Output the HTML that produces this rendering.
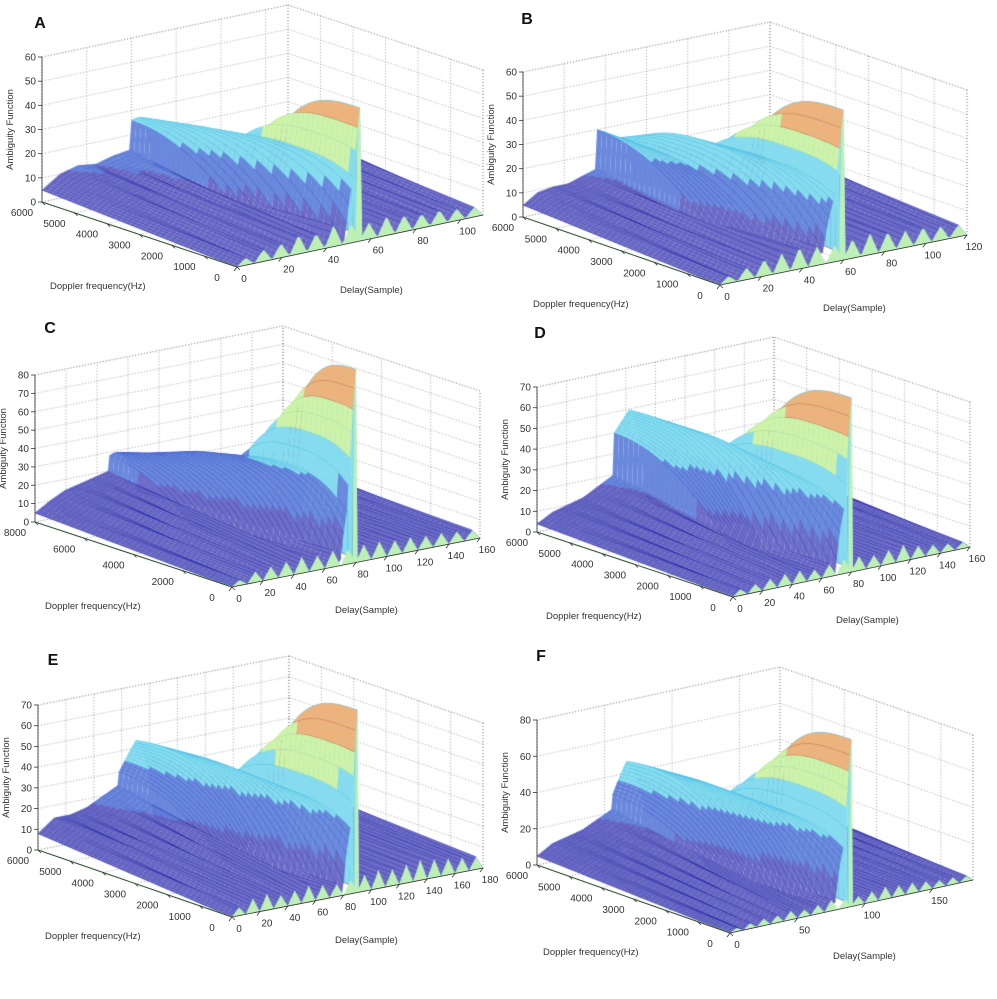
<!DOCTYPE html>
<html><head><meta charset="utf-8">
<style>
html,body{margin:0;padding:0;background:#fff;}
#wrap{position:relative;width:997px;height:999px;overflow:hidden;background:#fff;}
canvas,svg{position:absolute;left:0;top:0;}
text{font-family:"Liberation Sans",sans-serif;}
</style></head>
<body>
<div id="wrap">
<canvas id="cv" width="997" height="999"></canvas>
<svg id="sv" width="997" height="999"></svg>
</div>
<script>
// ---- per-panel data ----
const panelLetters = ["A","B","C","D","E","F"];
const peakHeights = [55, 62, 105, 84, 88, 92];
const zAxisMax = [60, 60, 80, 70, 70, 80];
const dopplerMax = [6000, 6000, 8000, 6000, 6000, 6000];
const delayMax = [110, 120, 160, 160, 180, 180];
const zTicksA = [0,10,20,30,40,50,60];
const zTicksB = [0,10,20,30,40,50,60];
const zTicksC = [0,10,20,30,40,50,60,70,80];
const zTicksD = [0,10,20,30,40,50,60,70];
const zTicksE = [0,10,20,30,40,50,60,70];
const zTicksF = [0,20,40,60,80];
const fTicks6 = [0,1000,2000,3000,4000,5000,6000];
const fTicks8 = [0,2000,4000,6000,8000];
const tTicksA = [0,20,40,60,80,100];
const tTicksB = [0,20,40,60,80,100,120];
const tTicksC = [0,20,40,60,80,100,120,140,160];
const tTicksE = [0,20,40,60,80,100,120,140,160,180];
const tTicksF = [0,50,100,150];
// diagonal ridge: delay, doppler of crest, crest height
const ridgeTauA=[40,44,48,52,55], ridgeFA=[6000,5000,3500,1800,0], ridgeHA=[26,28,30,32,55];
const ridgeTauB=[36,44,50,56,60], ridgeFB=[6000,4800,3500,2000,0], ridgeHB=[30,26,34,33,62];
const ridgeTauC=[48,58,66,74,80], ridgeFC=[8000,6000,4500,2500,0], ridgeHC=[28,34,40,44,105];
const ridgeTauD=[52,62,68,75,80], ridgeFD=[6000,5500,4000,2200,0], ridgeHD=[40,50,48,40,84];
const ridgeTauE=[58,70,78,85,90], ridgeFE=[6000,5200,3800,2000,0], ridgeHE=[30,45,44,40,88];
const ridgeTauF=[56,66,76,84,90], ridgeFF=[6000,5200,3800,2000,0], ridgeHF=[30,48,46,42,92];
const archWidthFrac=[0.58,0.62,0.45,0.62,0.58,0.58];
// back-edge heights of the low slices in front of the ridge
const backHA=[5,10,12,11,13,14], backHB=[5,9,10,10,12,14], backHC=[5,10,14,16,18,20];
const backHD=[4,8,10,12,16,20], backHE=[8,14,14,16,20,24], backHF=[5,10,12,14,18,22];
const rightH=[10,10,8,8,11,8];
// front (zero-doppler) sidelobe spike heights
const spikesA=[3,5,6,8,7,9,8,7,8,7,6,6,5,4];
const spikesB=[3,5,7,8,9,8,7,8,9,8,7,7,6,5];
const spikesC=[3,6,7,8,9,8,9,8,9,9,8,8,7,7,6,5];
const spikesD=[3,4,5,6,6,5,6,7,7,6,7,8,6,5,4,3];
const spikesE=[4,7,8,6,7,8,7,6,7,8,9,8,9,10,9,8,7,6];
const spikesF=[2,3,4,4,5,4,5,6,5,5,6,7,6,6,5,4,4,3];

// ---- panel geometry (pixels) ----
const geom = [
 {F:[237,267], dv:[-195,-65], tv:[246,-52], zpx:145, lab:[40,22]},
 {F:[720,285], dv:[-197,-68], tv:[247,-50], zpx:145, lab:[527,18]},
 {F:[232,587], dv:[-197,-65], tv:[248,-49], zpx:147, lab:[50,327]},
 {F:[733,597], dv:[-196,-65], tv:[237,-50], zpx:145, lab:[540,332]},
 {F:[232,917], dv:[-194,-67], tv:[251,-49], zpx:145, lab:[53,659]},
 {F:[730,933], dv:[-193,-68], tv:[243,-53], zpx:145, lab:[541,655]}
];
const zTicks=[zTicksA,zTicksB,zTicksC,zTicksD,zTicksE,zTicksF];
const fTicks=[fTicks6,fTicks6,fTicks8,fTicks6,fTicks6,fTicks6];
const tTicks=[tTicksA,tTicksB,tTicksC,tTicksC,tTicksE,tTicksF];
const ridgeTau=[ridgeTauA,ridgeTauB,ridgeTauC,ridgeTauD,ridgeTauE,ridgeTauF];
const ridgeF=[ridgeFA,ridgeFB,ridgeFC,ridgeFD,ridgeFE,ridgeFF];
const ridgeH=[ridgeHA,ridgeHB,ridgeHC,ridgeHD,ridgeHE,ridgeHF];
const backH=[backHA,backHB,backHC,backHD,backHE,backHF];
const spikes=[spikesA,spikesB,spikesC,spikesD,spikesE,spikesF];

const cv=document.getElementById('cv'), ctx=cv.getContext('2d');
const sv=document.getElementById('sv');
const NS='http://www.w3.org/2000/svg';

function proj(p,t,f,z){
  const g=geom[p], T=delayMax[p], Fm=dopplerMax[p];
  return [g.F[0]+f/Fm*g.dv[0]+t/T*g.tv[0], g.F[1]+f/Fm*g.dv[1]+t/T*g.tv[1]-z/zAxisMax[p]*g.zpx];
}
function interp(xs,ys,x){
  if(x<=xs[0]) return ys[0];
  for(let i=1;i<xs.length;i++){ if(x<=xs[i]){const r=(x-xs[i-1])/(xs[i]-xs[i-1]); return ys[i-1]+r*(ys[i]-ys[i-1]);} }
  return ys[ys.length-1];
}
function frontSpike(p,t){
  const T=delayMax[p], sp=spikes[p], m=sp.length, slot=t/T*m, k=Math.min(m-1,Math.floor(slot)), fr=slot-k;
  return sp[k]*(1-Math.abs(2*fr-1));
}
function zAt(p,t,f){
  const T=delayMax[p], Fm=dopplerMax[p], c=T/2;
  const rt=ridgeTau[p], t0=rt[0];
  const front=frontSpike(p,t);
  let back;
  if(t<t0){ const bh=backH[p]; back=interp(bh.map((_,i)=>i/(bh.length-1)*t0),bh,t); }
  else if(t>c) back=rightH[p]; else back=5;
  let z=front+(back-front)*(f/Fm);
  if(t>=t0 && t<=c){
    const fc=interp(rt,ridgeF[p],t), H=interp(rt,ridgeH[p],t), W=archWidthFrac[p]*Fm;
    const ex=2+1*(t-t0)/(c-t0);
    const d=Math.abs(f-fc)/W, lobe=H*Math.max(0,1-Math.pow(d,ex));
    if(lobe>z) z=lobe;
  }
  return z;
}
const fills=['#6e6ec8','#6a88dc','#86dcee','#cdf2a8','#efb27a'];
const strokes=['#1e1ea0','#2646c4','#36b4e2','#9ed898','#b8542a'];

function drawGrid(p){
  const T=delayMax[p], Fm=dopplerMax[p], Z=zAxisMax[p];
  ctx.save(); ctx.strokeStyle='#8a8a8a'; ctx.lineWidth=0.8; ctx.setLineDash([1,2]);
  const L=(a,b)=>{ctx.beginPath();ctx.moveTo(a[0],a[1]);ctx.lineTo(b[0],b[1]);ctx.stroke();};
  tTicks[p].forEach(t=>{L(proj(p,t,Fm,0),proj(p,t,Fm,Z)); L(proj(p,t,0,0),proj(p,t,Fm,0));});
  fTicks[p].forEach(f=>{L(proj(p,T,f,0),proj(p,T,f,Z)); L(proj(p,0,f,0),proj(p,T,f,0));});
  zTicks[p].forEach(z=>{L(proj(p,0,Fm,z),proj(p,T,Fm,z)); L(proj(p,T,0,z),proj(p,T,Fm,z));});
  L(proj(p,T,Fm,0),proj(p,T,Fm,Z)); L(proj(p,T,0,0),proj(p,T,0,Z));
  L(proj(p,0,Fm,Z),proj(p,T,Fm,Z)); L(proj(p,T,0,Z),proj(p,T,Fm,Z));
  ctx.restore();
}
function drawSurface(p){
  const T=delayMax[p], Fm=dopplerMax[p], P=peakHeights[p], NF=40, c=T/2;
  const fs=[]; for(let j=0;j<=NF;j++) fs.push(j/NF*Fm);
  const Zg=[]; for(let t=0;t<=T;t++){ Zg.push(fs.map(f=>zAt(p,t,f))); }
  for(let t=T-1;t>=0;t--){
    for(let j=NF-1;j>=0;j--){
      const za=(Zg[t][j]+Zg[t][j+1]+Zg[t+1][j]+Zg[t+1][j+1])/4;
      const lv=Math.max(0,Math.min(4,Math.floor(za/P*5)));
      const a=proj(p,t,fs[j],Zg[t][j]), b=proj(p,t,fs[j+1],Zg[t][j+1]),
            cc=proj(p,t+1,fs[j+1],Zg[t+1][j+1]), d=proj(p,t+1,fs[j],Zg[t+1][j]);
      ctx.fillStyle=fills[lv];
      ctx.beginPath();ctx.moveTo(a[0],a[1]);ctx.lineTo(b[0],b[1]);ctx.lineTo(cc[0],cc[1]);ctx.lineTo(d[0],d[1]);ctx.closePath();ctx.fill();
      ctx.strokeStyle=strokes[lv]; ctx.lineWidth=0.7;
      ctx.beginPath();ctx.moveTo(a[0],a[1]);ctx.lineTo(b[0],b[1]);ctx.stroke();
    }
  }
  // zero-doppler skirt: sidelobe spikes plus narrow mainlobe at c
  ctx.fillStyle='#bdf0b4'; ctx.strokeStyle='#7fd07f'; ctx.lineWidth=0.6;
  ctx.beginPath(); let s=proj(p,0,0,0); ctx.moveTo(s[0],s[1]);
  for(let t=0;t<=T;t++){
    const h=Math.abs(t-c)<=1.01?Zg[t][0]:frontSpike(p,t);
    const q=proj(p,t,0,h); ctx.lineTo(q[0],q[1]);
  }
  s=proj(p,T,0,0); ctx.lineTo(s[0],s[1]); ctx.closePath(); ctx.fill();
  ctx.strokeStyle='#9ad89a'; ctx.lineWidth=1.2; ctx.beginPath();
  s=proj(p,0,0,0); ctx.moveTo(s[0],s[1]); s=proj(p,0,Fm,0); ctx.lineTo(s[0],s[1]); ctx.stroke();
}
function svgEl(tag,attrs,parent){const e=document.createElementNS(NS,tag);for(const k in attrs)e.setAttribute(k,attrs[k]);(parent||sv).appendChild(e);return e;}
function drawAxes(p){
  const T=delayMax[p], Fm=dopplerMax[p], Z=zAxisMax[p], g=geom[p];
  const grp=svgEl('g',{});
  
  
  const line=(a,b,nm)=>{const l=svgEl('line',{x1:a[0],y1:a[1],x2:b[0],y2:b[1],stroke:'#333','stroke-width':0.8},grp);
    
     return l;};
  line(proj(p,0,Fm,0),proj(p,0,Fm,Z),'z-axis');
  line(proj(p,0,0,0),proj(p,0,Fm,0),'doppler-axis');
  line(proj(p,0,0,0),proj(p,T,0,0),'delay-axis');
  const txt=(x,y,s,anchor,nm,extra)=>{const t=svgEl('text',Object.assign({x:x,y:y,'font-size':10,fill:'#333','text-anchor':anchor},extra||{}),grp);t.textContent=s;
    
     return t;};
  zTicks[p].forEach(z=>{const q=proj(p,0,Fm,z); line([q[0]-4,q[1]],q,'z-tick'); txt(q[0]-6,q[1]+3.5,String(z),'end','z-tick-label');});
  fTicks[p].forEach(f=>{const q=proj(p,0,f,0); line(q,[q[0]+3,q[1]+3],'doppler-tick'); txt(q[0]-20,q[1]+14,String(f),'middle','doppler-tick-label');});
  tTicks[p].forEach(t=>{const q=proj(p,t,0,0); line(q,[q[0]-3,q[1]+4],'delay-tick'); txt(q[0]+7,q[1]+15,String(t),'middle','delay-tick-label');});
  const zb=proj(p,0,Fm,0), zt=proj(p,0,Fm,Z), my=(zb[1]+zt[1])/2, zx=zb[0]-29;
  txt(zx,my,'Ambiguity Function','middle','z-axis-title',{transform:'rotate(-90 '+zx+' '+my+')','font-size':9.5});
  txt(g.F[0]-187,g.F[1]+22,'Doppler frequency(Hz)','start','doppler-axis-title',{'font-size':9.5});
  txt(g.F[0]+103,g.F[1]+26,'Delay(Sample)','start','delay-axis-title',{'font-size':9.5});
  txt(g.lab[0],g.lab[1]+6,panelLetters[p],'middle','panel-label',{'font-family':'"Liberation Serif",serif','font-weight':'bold','font-size':16,fill:'#111'});
}
for(let p=0;p<6;p++){ drawGrid(p); drawSurface(p); drawAxes(p); }
</script>
</body></html>
